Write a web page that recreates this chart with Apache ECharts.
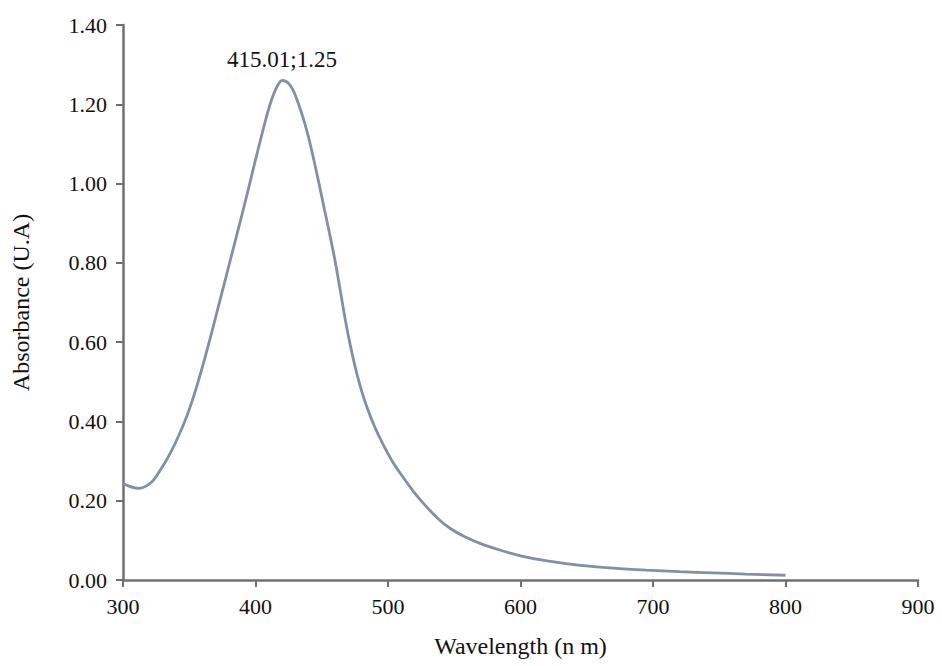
<!DOCTYPE html>
<html>
<head>
<meta charset="utf-8">
<script src="https://cdn.jsdelivr.net/npm/echarts@6/dist/echarts.min.js"></script>
<style>
html,body{margin:0;padding:0;background:#fff;}
#chart{width:942px;height:666px;}
</style>
</head>
<body>
<div id="chart"></div>
<script>
const wavelengths = [300, 305, 312, 318, 323, 330, 336, 342, 348, 353, 358, 363, 368, 372, 376, 380, 384, 388, 392, 396, 400, 404, 408, 412, 416, 420, 424, 428, 432, 436, 440, 444, 448, 452, 456, 460, 464, 468, 472, 476, 480, 484, 490, 496, 503, 511, 520, 529, 538, 547, 558, 569, 585, 600, 620, 645, 670, 695, 720, 745, 770, 800];
const absorbance  = [0.244, 0.236, 0.231, 0.238, 0.252, 0.287, 0.322, 0.364, 0.412, 0.460, 0.515, 0.575, 0.638, 0.690, 0.742, 0.794, 0.846, 0.898, 0.951, 1.005, 1.060, 1.113, 1.165, 1.210, 1.243, 1.260, 1.256, 1.238, 1.205, 1.165, 1.117, 1.060, 0.999, 0.935, 0.872, 0.806, 0.730, 0.652, 0.585, 0.527, 0.478, 0.437, 0.386, 0.344, 0.301, 0.261, 0.220, 0.185, 0.154, 0.130, 0.109, 0.093, 0.075, 0.061, 0.048, 0.037, 0.030, 0.025, 0.021, 0.018, 0.015, 0.012];
const peakPoint = [420, 1.26];
const peakLabel = '415.01;1.25';
const xTitle = 'Wavelength (n m)';
const yTitle = 'Absorbance (U.A)';

const font = "'Liberation Serif','Times New Roman',serif";
const chart = echarts.init(document.getElementById('chart'), null, {renderer: 'svg'});
chart.setOption({
  animation: false,
  backgroundColor: '#fff',
  grid: {left: 123, right: 24, top: 25, bottom: 86, containLabel: false, outerBoundsMode: 'none'},
  xAxis: {
    type: 'value', min: 300, max: 900, interval: 100,
    name: xTitle, nameLocation: 'middle', nameGap: 54,
    nameTextStyle: {fontFamily: font, fontSize: 24, color: '#111'},
    axisLine: {show: true, lineStyle: {color: '#707070', width: 2.5}},
    axisTick: {show: true, length: 7, lineStyle: {color: '#707070', width: 2}},
    axisLabel: {fontFamily: font, fontSize: 22, color: '#111', margin: 15},
    splitLine: {show: false}
  },
  yAxis: {
    type: 'value', min: 0, max: 1.4, interval: 0.2,
    name: yTitle, nameLocation: 'middle', nameGap: 90,
    nameTextStyle: {fontFamily: font, fontSize: 24, color: '#111'},
    axisLine: {show: true, lineStyle: {color: '#707070', width: 2.5}},
    axisTick: {show: true, length: 7, lineStyle: {color: '#707070', width: 2}},
    axisLabel: {fontFamily: font, fontSize: 22, color: '#111', margin: 16,
      formatter: v => v.toFixed(2)},
    splitLine: {show: false}
  },
  series: [{
    type: 'line',
    data: wavelengths.map((w, i) => [w, absorbance[i]]),
    smooth: 0.3,
    showSymbol: false,
    lineStyle: {color: '#8190a8', width: 2.8},
    markPoint: {
      symbol: 'circle', symbolSize: 1,
      itemStyle: {color: 'rgba(0,0,0,0)'},
      label: {show: true, position: 'top', distance: 9, formatter: peakLabel,
        fontFamily: font, fontSize: 23, color: '#111'},
      data: [{coord: peakPoint}]
    }
  }]
});
</script>
</body>
</html>
